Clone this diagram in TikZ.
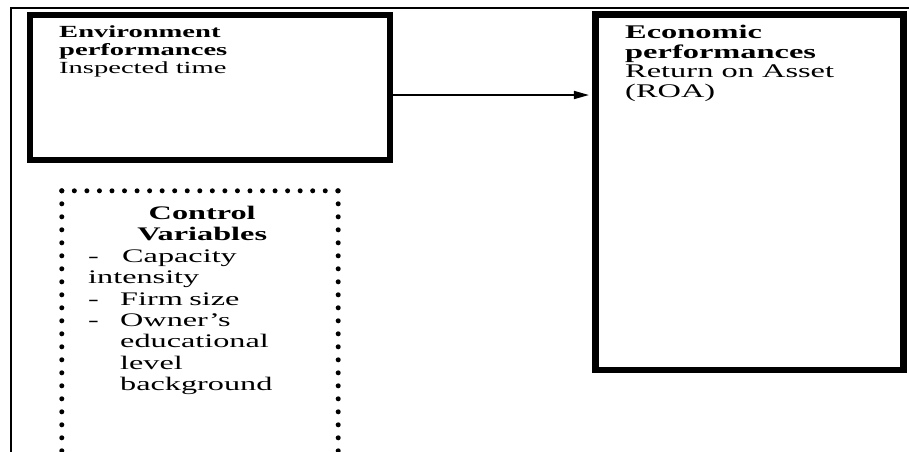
\documentclass[tikz,border=0pt]{standalone}
\usepackage{fontspec}
\setmainfont{Liberation Serif}[FakeStretch=1.68]
\usetikzlibrary{arrows.meta}
\begin{document}
\begin{tikzpicture}[x=1pt,y=-1pt,
  frame/.style={line width=2.2pt},
  box/.style={draw, line width=6.5pt, inner sep=0pt},
  txt/.style={inner sep=0pt, anchor=north west, align=left},
  dotline/.style={line width=5pt, line cap=round, dash pattern=on 0pt off #1},
  arr/.style={line width=1.6pt, -{Triangle[length=15pt,width=8pt]}}]
\useasboundingbox (0,0) rectangle (909,451);
% frame
\coordinate (fa) at (11,460);
\coordinate (fb) at (11,8);
\coordinate (fc) at (915,8);
\draw[frame] (fa) -- (fb) -- (fc);
% boxes
\node[box, minimum width=360pt, minimum height=145pt] (env) at (210,87.5) {};
\node[box, minimum width=308pt, minimum height=355.3pt] (eco) at (749.5,192.3) {};
\node[inner sep=0pt, minimum width=276pt, minimum height=279pt] (ctrl) at (200,330.5) {};
\draw[dotline=13pt] (ctrl.north west) -- (ctrl.south west);
\draw[dotline=12.545pt] (ctrl.north west) -- (ctrl.north east);
\draw[dotline=13pt] (ctrl.north east) -- (ctrl.south east);
% arrow
\coordinate (ay) at (0,95);
\draw[arr, shorten >=3.3pt] (env.east |- ay) -- (eco.west |- ay);
% texts
\node[txt, font=\fontsize{17.0}{18}\selectfont] (envtxt) at (59,25.5)
  {\textbf{Environment}\\\textbf{performances}\\Inspected time};
\node[txt, font=\fontsize{19.3}{19.5}\selectfont] (ecotxt) at (625,25.2)
  {\textbf{Economic}\\\textbf{performances}\\Return on Asset\\(ROA)};
\node[inner sep=0pt, anchor=north west, text width=228pt,
  font=\fontsize{19.2}{21.4}\selectfont] (ctrltxt) at (88,206)
  {\centering\textbf{Control}\\\textbf{Variables}\par
   \raggedright\makebox[34pt][l]{-}Capacity\\intensity\\
   \makebox[32pt][l]{-}Firm size\\\makebox[32pt][l]{-}Owner’s\\
   \hspace*{32pt}educational\\\hspace*{32pt}level\\\hspace*{32pt}background};
\end{tikzpicture}
\end{document}
